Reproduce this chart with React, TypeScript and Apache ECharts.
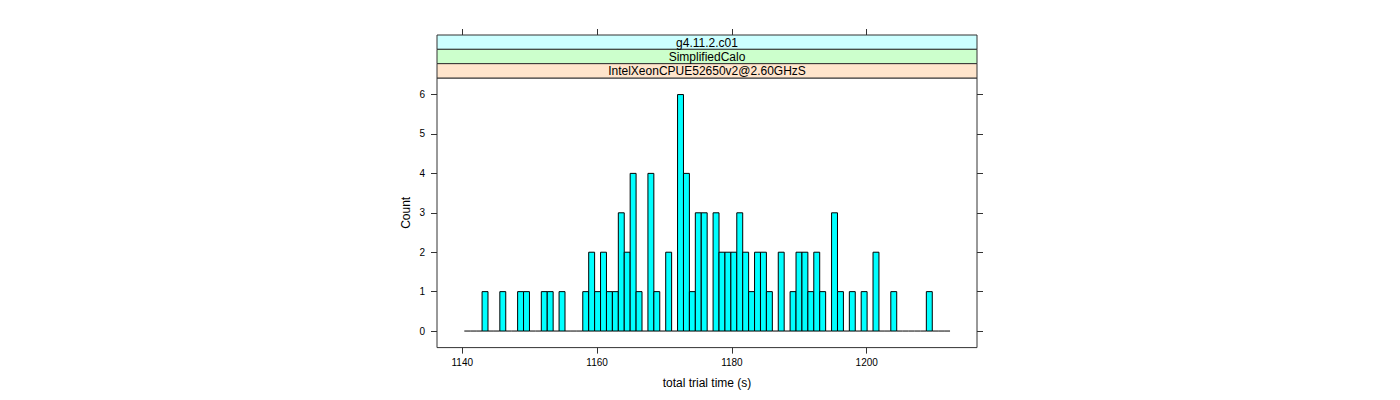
import React, { useEffect, useRef } from "react";
import * as echarts from "echarts";

// Strip labels, from top to bottom
const STRIP_LABELS = ["g4.11.2.c01", "SimplifiedCalo", "IntelXeonCPUE52650v2@2.60GHzS"];
const STRIP_COLORS = ["#ccffff", "#ccffcc", "#ffe5cc"];

// Histogram: equal-width breaks between these endpoints, one count per bin
const BREAK_START = 1140.3;
const BREAK_END = 1212.36;
const COUNTS = [
  0, 0, 0, 1, 0, 0, 1, 0, 0, 1,
  1, 0, 0, 1, 1, 0, 1, 0, 0, 0,
  1, 2, 1, 2, 1, 1, 3, 2, 4, 1,
  0, 4, 1, 0, 2, 0, 6, 4, 1, 3,
  3, 0, 3, 2, 2, 2, 3, 2, 1, 2,
  2, 1, 0, 2, 0, 1, 2, 2, 1, 2,
  1, 0, 3, 1, 0, 1, 0, 1, 0, 2,
  0, 0, 1, 0, 0, 0, 0, 0, 1, 0,
  0, 0,
];

const X_TICKS = [1140, 1160, 1180, 1200];
const Y_TICKS = [0, 1, 2, 3, 4, 5, 6];

const X_MIN = 1136.25;
const X_MAX = 1216.36;
const Y_MIN = -0.42;
const Y_MAX = 6.42;

const FONT = "Liberation Sans, Arial, Helvetica, sans-serif";

export default function App() {
  const ref = useRef<HTMLDivElement>(null);

  useEffect(() => {
    document.body.style.margin = "0";
    if (!ref.current) return;
    const chart = echarts.init(ref.current, undefined, { renderer: "svg" });

    const binWidth = (BREAK_END - BREAK_START) / COUNTS.length;
    const bins = COUNTS.map((c, i) => [
      BREAK_START + i * binWidth,
      BREAK_START + (i + 1) * binWidth,
      c,
    ]);

    const gridLeft = 437;
    const gridRight = 977;
    const gridTop = 78;
    const gridBottom = 347.6;
    const stripTop = 35;
    const stripH = (gridTop - stripTop) / STRIP_LABELS.length;

    const stripGraphics: any[] = [];
    STRIP_LABELS.forEach((label, i) => {
      const y = stripTop + i * stripH;
      stripGraphics.push({
        type: "rect",
        shape: { x: gridLeft, y, width: gridRight - gridLeft, height: stripH },
        style: { fill: STRIP_COLORS[i], stroke: "#333", lineWidth: 1 },
        z: 10,
      });
      stripGraphics.push({
        type: "text",
        x: (gridLeft + gridRight) / 2,
        y: y + stripH / 2 + 0.5,
        style: {
          text: label,
          fill: "#000",
          font: `12px ${FONT}`,
          align: "center",
          verticalAlign: "middle",
        },
        z: 11,
      });
    });

    const axisLineStyle = { color: "#333", width: 1 };
    const plain = (v: number) => String(v);

    const option: any = {
      animation: false,
      grid: {
        left: gridLeft,
        top: gridTop,
        width: gridRight - gridLeft,
        height: gridBottom - gridTop,
        show: true,
        borderColor: "#333",
        borderWidth: 1,
        backgroundColor: "transparent",
      },
      xAxis: [
        {
          type: "value",
          min: X_MIN,
          max: X_MAX,
          position: "bottom",
          splitLine: { show: false },
          axisLine: { show: false, onZero: false },
          axisTick: {
            show: true,
            customValues: X_TICKS,
            length: 6,
            lineStyle: axisLineStyle,
          },
          axisLabel: {
            customValues: X_TICKS,
            formatter: plain,
            color: "#000",
            fontFamily: FONT,
            fontSize: 10,
            margin: 10,
          },
          name: "total trial time (s)",
          nameLocation: "middle",
          nameGap: 29,
          nameTextStyle: { color: "#000", fontFamily: FONT, fontSize: 12 },
        },
        {
          type: "value",
          min: X_MIN,
          max: X_MAX,
          position: "top",
          offset: gridTop - stripTop,
          splitLine: { show: false },
          axisLine: { show: false, onZero: false },
          axisTick: {
            show: true,
            customValues: X_TICKS,
            length: 6,
            lineStyle: axisLineStyle,
          },
          axisLabel: { show: false },
        },
      ],
      yAxis: [
        {
          type: "value",
          min: Y_MIN,
          max: Y_MAX,
          position: "left",
          splitLine: { show: false },
          axisLine: { show: false, onZero: false },
          axisTick: {
            show: true,
            customValues: Y_TICKS,
            length: 6,
            lineStyle: axisLineStyle,
          },
          axisLabel: {
            customValues: Y_TICKS,
            formatter: plain,
            color: "#000",
            fontFamily: FONT,
            fontSize: 10,
            margin: 12,
          },
          name: "Count",
          nameLocation: "middle",
          nameGap: 25,
          nameRotate: 90,
          nameTextStyle: { color: "#000", fontFamily: FONT, fontSize: 12 },
        },
        {
          type: "value",
          min: Y_MIN,
          max: Y_MAX,
          position: "right",
          splitLine: { show: false },
          axisLine: { show: false, onZero: false },
          axisTick: {
            show: true,
            customValues: Y_TICKS,
            length: 6,
            lineStyle: axisLineStyle,
          },
          axisLabel: { show: false },
        },
      ],
      graphic: stripGraphics,
      series: [
        {
          type: "custom",
          xAxisIndex: 0,
          yAxisIndex: 0,
          data: bins,
          renderItem: (params: any, api: any) => {
            const x0 = api.value(0);
            const x1 = api.value(1);
            const c = api.value(2);
            const p0 = api.coord([x0, 0]);
            const p1 = api.coord([x1, c]);
            if (c === 0) {
              return {
                type: "line",
                shape: { x1: p0[0], y1: p0[1], x2: p1[0], y2: p0[1] },
                style: { stroke: "#000", lineWidth: 1 },
              };
            }
            return {
              type: "rect",
              shape: {
                x: p0[0],
                y: p1[1],
                width: p1[0] - p0[0],
                height: p0[1] - p1[1],
              },
              style: { fill: "#00ffff", stroke: "#000", lineWidth: 1 },
            };
          },
        },
      ],
    };

    chart.setOption(option);
    return () => chart.dispose();
  }, []);

  return <div ref={ref} style={{ width: 1400, height: 400 }} />;
}
